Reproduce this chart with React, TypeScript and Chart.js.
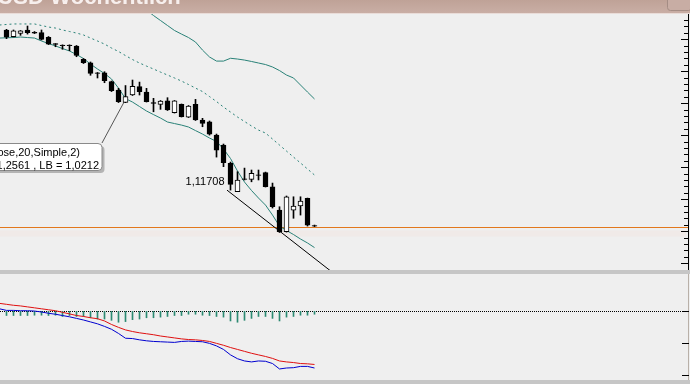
import React, { useEffect, useRef } from 'react';
import { Chart, registerables } from 'chart.js';

Chart.register(...registerables);

// ---- Data ----
const titleText = 'EUR/USD Wöchentlich';

// weekly candles, index 0..44
const opens = [1.2422, 1.2369, 1.2396, 1.2422, 1.2404, 1.2401, 1.2365, 1.2315, 1.2304, 1.2304, 1.2297, 1.2193, 1.2166, 1.2088, 1.2088, 1.2018, 1.1953, 1.1857, 1.1914, 1.1979, 1.1937, 1.1854, 1.1841, 1.1869, 1.1776, 1.1841, 1.1740, 1.1841, 1.1719, 1.1705, 1.1601, 1.1523, 1.1380, 1.1158, 1.1260, 1.1255, 1.1291, 1.1307, 1.1197, 1.1015, 1.0846, 1.1015, 1.1047, 1.1107, 1.0894];
const highs = [1.2427, 1.2422, 1.2418, 1.2453, 1.2410, 1.2422, 1.2371, 1.2316, 1.2306, 1.2306, 1.2301, 1.2199, 1.2172, 1.2090, 1.2096, 1.2023, 1.1966, 1.1988, 1.2031, 1.2015, 1.1966, 1.1888, 1.1871, 1.1893, 1.1871, 1.1844, 1.1832, 1.1880, 1.1732, 1.1711, 1.1609, 1.1531, 1.1390, 1.1315, 1.1343, 1.1328, 1.1328, 1.1312, 1.1226, 1.1041, 1.1125, 1.1119, 1.1119, 1.1109, 1.0898];
const lows = [1.2354, 1.2367, 1.2380, 1.2390, 1.2394, 1.2344, 1.2308, 1.2291, 1.2271, 1.2260, 1.2213, 1.2160, 1.2068, 1.2047, 1.2010, 1.1941, 1.1855, 1.1854, 1.1910, 1.1914, 1.1859, 1.1783, 1.1802, 1.1793, 1.1773, 1.1742, 1.1738, 1.1715, 1.1666, 1.1601, 1.1429, 1.1354, 1.1171, 1.1160, 1.1250, 1.1236, 1.1250, 1.1195, 1.1031, 1.0840, 1.0843, 1.0951, 1.0976, 1.0890, 1.0886];
const closes = [1.2365, 1.2416, 1.2416, 1.2401, 1.2398, 1.2349, 1.2312, 1.2310, 1.2300, 1.2300, 1.2224, 1.2166, 1.2083, 1.2083, 1.2026, 1.1947, 1.1861, 1.1901, 1.1982, 1.1940, 1.1861, 1.1849, 1.1867, 1.1797, 1.1869, 1.1744, 1.1828, 1.1719, 1.1693, 1.1609, 1.1484, 1.1385, 1.1216, 1.1250, 1.1255, 1.1302, 1.1286, 1.1197, 1.1041, 1.0846, 1.1119, 1.1047, 1.1086, 1.0898, 1.0890];

// Bollinger bands; overlay series start one week before the first visible candle (index -1)
const overlayStart = -1;
const upperBand = [null, null, null, null, null, null, null, null, null, null, null, null, null, null, null, null, null, null, null, null, null,
  1.2578, 1.2535, 1.2496, 1.2457, 1.2418, 1.2390, 1.2363, 1.2328, 1.2265, 1.2211, 1.2179, 1.2179, 1.2201, 1.2195, 1.2187, 1.2176, 1.2164, 1.2152, 1.2133, 1.2105, 1.2070, 1.2047, 1.1992, 1.1937, 1.1883];
const middleBand = [1.2461, 1.2465, 1.2469, 1.2469, 1.2469, 1.2469, 1.2457, 1.2445, 1.2437, 1.2422, 1.2410, 1.2398, 1.2383, 1.2359, 1.2336, 1.2312, 1.2281, 1.2254, 1.2222, 1.2191, 1.2164, 1.2140, 1.2117, 1.2093, 1.2070, 1.2047, 1.2023, 1.1996, 1.1968, 1.1941, 1.1902, 1.1863, 1.1820, 1.1781, 1.1742, 1.1707, 1.1672, 1.1640, 1.1617, 1.1570, 1.1523, 1.1476, 1.1429, 1.1383, 1.1336, 1.1289];
const lowerBand = [1.2359, 1.2361, 1.2363, 1.2367, 1.2363, 1.2359, 1.2336, 1.2316, 1.2297, 1.2277, 1.2258, 1.2230, 1.2199, 1.2156, 1.2117, 1.2082, 1.2039, 1.1968, 1.1886, 1.1859, 1.1824, 1.1789, 1.1761, 1.1734, 1.1703, 1.1691, 1.1679, 1.1664, 1.1636, 1.1609, 1.1578, 1.1551, 1.1492, 1.1418, 1.1320, 1.1234, 1.1168, 1.1109, 1.1054, 1.0976, 1.0890, 1.0855, 1.0824, 1.0789, 1.0758, 1.0722];

// MACD panel
const macdLine = [0.0008, 0.0003, 0.0003, 0.0002, 0.0002, 0.0001, -0.0002, -0.0006, -0.0009, -0.0013, -0.0017, -0.0022, -0.0027, -0.0033, -0.0039, -0.0047, -0.0056, -0.0069, -0.0084, -0.0085, -0.0089, -0.0092, -0.0094, -0.0095, -0.0096, -0.0097, -0.0094, -0.0093, -0.0094, -0.0095, -0.0100, -0.0108, -0.0119, -0.0136, -0.0148, -0.0155, -0.0158, -0.0155, -0.0156, -0.0163, -0.0180, -0.0177, -0.0176, -0.0172, -0.0172, -0.0177];
const signalLine = [0.0025, 0.0022, 0.0019, 0.0017, 0.0014, 0.0011, 0.0008, 0.0005, 0.0002, -0.0003, -0.0008, -0.0013, -0.0016, -0.0020, -0.0023, -0.0030, -0.0041, -0.0050, -0.0058, -0.0063, -0.0067, -0.0070, -0.0073, -0.0077, -0.0080, -0.0083, -0.0086, -0.0088, -0.0089, -0.0091, -0.0094, -0.0100, -0.0106, -0.0113, -0.0119, -0.0125, -0.0131, -0.0136, -0.0141, -0.0147, -0.0155, -0.0158, -0.0160, -0.0163, -0.0164, -0.0166];
const histogram = [-0.0013, -0.0013, -0.0013, -0.0013, -0.0012, -0.0012, -0.0013, -0.0012, -0.0016, -0.0013, -0.0016, -0.0016, -0.0020, -0.0024, -0.0024, -0.0028, -0.0034, -0.0032, -0.0026, -0.0024, -0.0020, -0.0020, -0.0018, -0.0016, -0.0013, -0.0013, -0.0009, -0.0009, -0.0012, -0.0013, -0.0016, -0.0018, -0.0030, -0.0034, -0.0028, -0.0022, -0.0016, -0.0016, -0.0022, -0.0030, -0.0018, -0.0016, -0.0012, -0.0012, -0.0009];

// annotations
const lowLabel = '1,11708';
const lowLabelWeek = 32;
const lowLabelPrice = 1.11708;
const trendLine = [{ x: 31.5, y: 1.11708 }, { x: 46.5, y: 1.0531 }];
const calloutLeader = [{ x: 17, y: 1.1880 }, { x: 13.64, y: 1.1539 }];
const calloutLines = ['BB(Close,20,Simple,2)', 'UB = 1,2561 , LB = 1,0212'];
const orangeLevel = 1.0879;

// scale ranges (price panel on top, MACD panel below, sharing the canvas)
const priceMin = 0.965625;
const priceMax = 1.265625;
const macdMin = -0.0227;
const macdMax = 0.0973;
const macdTicks = [0, -0.01, -0.02];

const W = 690;
const H = 384;
const TEAL = '#2a8278';

const decor = {
  id: 'decor',
  beforeDraw(chart: any) {
    const { ctx } = chart;
    ctx.save();
    ctx.fillStyle = '#efefef';
    ctx.fillRect(0, 0, W, H);
    ctx.restore();
  },
  beforeDatasetsDraw(chart: any) {
    const { ctx } = chart;
    const ys = chart.scales.y;
    const y2 = chart.scales.y2;
    ctx.save();
    const yo = Math.round(ys.getPixelForValue(orangeLevel)) + 0.5;
    ctx.fillStyle = 'rgba(240,230,226,0.6)';
    ctx.fillRect(0, yo + 3, 686, 6);
    ctx.strokeStyle = '#e2781c';
    ctx.lineWidth = 1;
    ctx.beginPath();
    ctx.moveTo(0, yo);
    ctx.lineTo(688, yo);
    ctx.stroke();
    const yz = Math.round(y2.getPixelForValue(0)) + 0.5;
    ctx.strokeStyle = '#000';
    ctx.setLineDash([1, 1]);
    ctx.beginPath();
    ctx.moveTo(0, yz);
    ctx.lineTo(688, yz);
    ctx.stroke();
    ctx.restore();
  },
  afterDatasetsDraw(chart: any) {
    const { ctx } = chart;
    const xs = chart.scales.x;
    const ys = chart.scales.y;
    const y2 = chart.scales.y2;
    ctx.save();

    // callout box
    const bx = -10, by = 143.5, bw = 112, bh = 27, r = 4;
    const rr = (x: number, y: number, w: number, h: number, rad: number) => {
      ctx.beginPath();
      ctx.moveTo(x + rad, y);
      ctx.lineTo(x + w - rad, y);
      ctx.quadraticCurveTo(x + w, y, x + w, y + rad);
      ctx.lineTo(x + w, y + h - rad);
      ctx.quadraticCurveTo(x + w, y + h, x + w - rad, y + h);
      ctx.lineTo(x + rad, y + h);
      ctx.quadraticCurveTo(x, y + h, x, y + h - rad);
      ctx.lineTo(x, y + rad);
      ctx.quadraticCurveTo(x, y, x + rad, y);
      ctx.closePath();
    };
    ctx.fillStyle = '#b4b4b4';
    rr(bx + 2.5, by + 2.5, bw, bh, r);
    ctx.fill();
    ctx.fillStyle = '#ffffff';
    rr(bx, by, bw, bh, r);
    ctx.fill();
    ctx.strokeStyle = '#8a8a8a';
    ctx.lineWidth = 1;
    ctx.stroke();
    ctx.fillStyle = '#000';
    ctx.font = '11px "Liberation Sans", Arial, sans-serif';
    ctx.textAlign = 'right';
    ctx.textBaseline = 'alphabetic';
    ctx.fillText(calloutLines[0], 80, 156);
    ctx.fillText(calloutLines[1], 99, 169);

    // low label
    const lx = xs.getPixelForValue(lowLabelWeek) - 6;
    const ly = ys.getPixelForValue(lowLabelPrice) - 5;
    ctx.fillText(lowLabel, lx, ly);

    // separators between panels
    ctx.fillStyle = '#c6c6c6';
    ctx.fillRect(0, 270, W, 4);
    ctx.fillRect(0, 380, W, 4);

    // right axis
    ctx.strokeStyle = '#000';
    ctx.beginPath();
    ctx.moveTo(688.5, 14);
    ctx.lineTo(688.5, 270);
    ctx.stroke();
    ctx.strokeStyle = '#b8b0a8';
    ctx.beginPath();
    ctx.moveTo(688.5, 274);
    ctx.lineTo(688.5, 380);
    ctx.stroke();
    ctx.strokeStyle = '#000';
    for (let k = 0; k <= 40; k++) {
      const v = 1.055 + k * 0.005;
      const py = Math.round(ys.getPixelForValue(v)) + 0.5;
      if (py < 16 || py > 268) continue;
      const long = Math.round((v - 1.06) / 0.005) % 5 === 0;
      ctx.beginPath();
      ctx.moveTo(long ? 681 : 684, py);
      ctx.lineTo(689, py);
      ctx.stroke();
    }
    macdTicks.forEach((t) => {
      const py = Math.round(y2.getPixelForValue(t)) + 0.5;
      ctx.beginPath();
      ctx.moveTo(682, py);
      ctx.lineTo(689, py);
      ctx.stroke();
    });

    // title bar
    const g = ctx.createLinearGradient(0, 0, 0, 13);
    g.addColorStop(0, '#bfa297');
    g.addColorStop(1, '#c9aea5');
    ctx.fillStyle = g;
    ctx.fillRect(0, 0, W, 13);
    ctx.fillStyle = '#e9dcd8';
    ctx.fillRect(0, 13, W, 1);
    ctx.font = 'bold 22px "Liberation Sans", Arial, sans-serif';
    ctx.textAlign = 'left';
    const pre = titleText.split(' ')[0] + ' ';
    const tx = 50 - ctx.measureText(pre).width;
    ctx.fillStyle = '#f7efed';
    ctx.fillText(titleText, tx, 3.5);
    // window button
    ctx.fillStyle = '#c8ada4';
    rr(667.5, -4, 24, 14.5, 3);
    ctx.fill();
    ctx.strokeStyle = '#a48c84';
    ctx.stroke();

    ctx.restore();
  },
};

export default function App() {
  const ref = useRef<HTMLCanvasElement>(null);
  useEffect(() => {
    const weeks = opens.map((_, i) => i);
    const bodies = weeks.map((i) => ({ x: i, y: [opens[i], closes[i]] }));
    const wicks = weeks.map((i) => ({ x: i, y: [lows[i], highs[i]] }));
    const bodyColors = weeks.map((i) => (closes[i] > opens[i] ? '#ffffff' : '#000000'));
    const ov = (arr: (number | null)[]) => arr.map((v, j) => ({ x: j + overlayStart, y: v }));
    const hist = weeks.map((i) => ({ x: i, y: histogram[i] }));

    const lineBase = { type: 'line' as const, pointRadius: 0, borderWidth: 1, tension: 0, fill: false, spanGaps: false };

    const chart = new Chart(ref.current as HTMLCanvasElement, {
      type: 'bar',
      data: {
        datasets: [
          { type: 'bar', data: bodies as any, backgroundColor: bodyColors, borderColor: '#000', borderWidth: 1, borderSkipped: false, barThickness: 5, grouped: false, yAxisID: 'y', order: 0 } as any,
          { type: 'bar', data: wicks as any, backgroundColor: '#000', borderWidth: 0, barThickness: 1, grouped: false, yAxisID: 'y', order: 1 } as any,
          { ...lineBase, data: ov(upperBand), borderColor: TEAL, yAxisID: 'y', order: 2 } as any,
          { ...lineBase, data: ov(middleBand), borderColor: TEAL, borderDash: [2, 3], yAxisID: 'y', order: 2 } as any,
          { ...lineBase, data: ov(lowerBand), borderColor: TEAL, yAxisID: 'y', order: 2 } as any,
          { ...lineBase, data: trendLine, borderColor: '#000', yAxisID: 'y', order: 3 } as any,
          { ...lineBase, data: calloutLeader, borderColor: '#555555', yAxisID: 'y', order: 3 } as any,
          { type: 'bar', data: hist as any, backgroundColor: '#2c8a72', borderWidth: 0, barThickness: 1, grouped: false, yAxisID: 'y2', order: 5 } as any,
          { ...lineBase, data: ov(signalLine), borderColor: '#e01010', yAxisID: 'y2', order: 4 } as any,
          { ...lineBase, data: ov(macdLine), borderColor: '#0000d0', yAxisID: 'y2', order: 4 } as any,
        ],
      },
      options: {
        animation: false,
        responsive: false,
        maintainAspectRatio: false,
        events: [],
        layout: { padding: 0 },
        plugins: { legend: { display: false }, tooltip: { enabled: false } },
        scales: {
          x: { type: 'linear', display: false, offset: false, min: -6.5 / 7, max: (W - 6.5) / 7 },
          y: { type: 'linear', display: false, min: priceMin, max: priceMax },
          y2: { type: 'linear', display: false, min: macdMin, max: macdMax },
        },
      } as any,
      plugins: [decor],
    });
    return () => chart.destroy();
  }, []);

  return (
    <div style={{ position: 'absolute', left: 0, top: 0, width: W, height: H, overflow: 'hidden' }}>
      <canvas ref={ref} width={W} height={H} style={{ display: 'block', width: W, height: H }} />
    </div>
  );
}
